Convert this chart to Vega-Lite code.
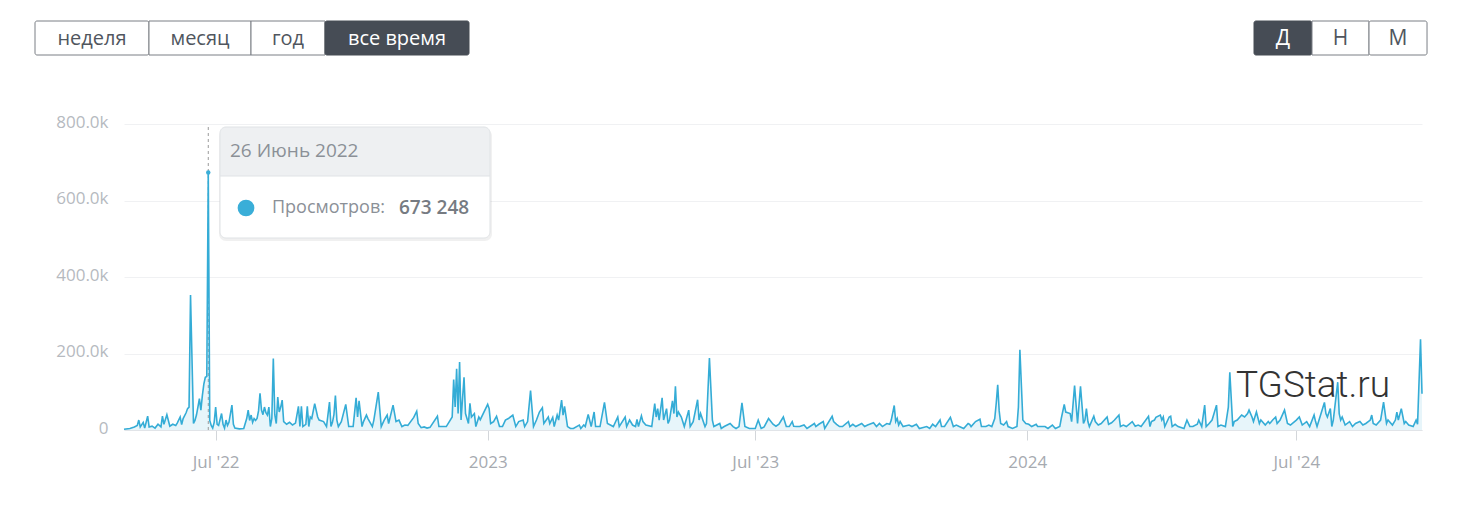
{
"$schema": "https://vega.github.io/schema/vega-lite/v6.json",
"width": 1298, "height": 306,
"autosize": {"type": "none"},
"padding": {"left": 124, "top": 124, "right": 38, "bottom": 75},
"background": "white",
"config": {"view": {"stroke": null}, "font": "Open Sans"},
"datasets": {"views": [
{"d":"2022-04-30","v":2000},{"d":"2022-05-04","v":4000},{"d":"2022-05-07","v":8000},{"d":"2022-05-09","v":12000},{"d":"2022-05-10","v":26000},{"d":"2022-05-11","v":8000},{"d":"2022-05-13","v":20000},{"d":"2022-05-14","v":5000},{"d":"2022-05-16","v":36000},{"d":"2022-05-17","v":8000},{"d":"2022-05-19","v":10000},{"d":"2022-05-21","v":5000},{"d":"2022-05-23","v":15000},{"d":"2022-05-25","v":8000},{"d":"2022-05-26","v":36000},{"d":"2022-05-27","v":15000},{"d":"2022-05-29","v":40000},{"d":"2022-05-31","v":10000},
{"d":"2022-06-02","v":15000},{"d":"2022-06-04","v":12000},{"d":"2022-06-05","v":18000},{"d":"2022-06-07","v":34000},{"d":"2022-06-08","v":14000},{"d":"2022-06-09","v":30000},{"d":"2022-06-11","v":45000},{"d":"2022-06-12","v":56000},{"d":"2022-06-13","v":60000},{"d":"2022-06-14","v":353000},{"d":"2022-06-16","v":17000},{"d":"2022-06-17","v":25000},{"d":"2022-06-18","v":39000},{"d":"2022-06-19","v":60000},{"d":"2022-06-20","v":82000},{"d":"2022-06-21","v":52000},{"d":"2022-06-22","v":90000},{"d":"2022-06-23","v":120000},{"d":"2022-06-24","v":138000},{"d":"2022-06-25","v":140000},{"d":"2022-06-26","v":673248},{"d":"2022-06-27","v":25000},{"d":"2022-06-28","v":12000},{"d":"2022-06-29","v":5000},{"d":"2022-06-30","v":20000},
{"d":"2022-07-01","v":60000},{"d":"2022-07-02","v":15000},{"d":"2022-07-03","v":12000},{"d":"2022-07-05","v":43000},{"d":"2022-07-06","v":15000},{"d":"2022-07-07","v":5000},{"d":"2022-07-08","v":26000},{"d":"2022-07-09","v":12000},{"d":"2022-07-10","v":20000},{"d":"2022-07-12","v":65000},{"d":"2022-07-13","v":15000},{"d":"2022-07-14","v":5000},{"d":"2022-07-17","v":3000},{"d":"2022-07-20","v":4000},{"d":"2022-07-22","v":30000},{"d":"2022-07-23","v":52000},{"d":"2022-07-24","v":25000},{"d":"2022-07-25","v":39000},{"d":"2022-07-26","v":20000},{"d":"2022-07-27","v":30000},{"d":"2022-07-28","v":25000},{"d":"2022-07-29","v":30000},{"d":"2022-07-30","v":50000},{"d":"2022-07-31","v":96000},
{"d":"2022-08-01","v":52000},{"d":"2022-08-02","v":40000},{"d":"2022-08-03","v":60000},{"d":"2022-08-04","v":45000},{"d":"2022-08-05","v":39000},{"d":"2022-08-06","v":60000},{"d":"2022-08-07","v":9000},{"d":"2022-08-08","v":30000},{"d":"2022-08-09","v":187000},{"d":"2022-08-10","v":40000},{"d":"2022-08-11","v":17000},{"d":"2022-08-12","v":86000},{"d":"2022-08-13","v":47000},{"d":"2022-08-14","v":60000},{"d":"2022-08-15","v":78000},{"d":"2022-08-16","v":22000},{"d":"2022-08-18","v":15000},{"d":"2022-08-20","v":20000},{"d":"2022-08-22","v":13000},{"d":"2022-08-24","v":18000},{"d":"2022-08-26","v":62000},{"d":"2022-08-27","v":9000},{"d":"2022-08-28","v":62000},{"d":"2022-08-29","v":9000},{"d":"2022-08-31","v":15000},
{"d":"2022-09-01","v":62000},{"d":"2022-09-02","v":9000},{"d":"2022-09-03","v":34000},{"d":"2022-09-04","v":30000},{"d":"2022-09-06","v":69000},{"d":"2022-09-08","v":34000},{"d":"2022-09-09","v":26000},{"d":"2022-09-12","v":22000},{"d":"2022-09-14","v":9000},{"d":"2022-09-16","v":73000},{"d":"2022-09-17","v":9000},{"d":"2022-09-18","v":20000},{"d":"2022-09-19","v":40000},{"d":"2022-09-20","v":90000},{"d":"2022-09-21","v":26000},{"d":"2022-09-22","v":9000},{"d":"2022-09-24","v":22000},{"d":"2022-09-27","v":67000},{"d":"2022-09-29","v":9000},
{"d":"2022-10-02","v":9000},{"d":"2022-10-04","v":84000},{"d":"2022-10-05","v":34000},{"d":"2022-10-06","v":76000},{"d":"2022-10-08","v":9000},{"d":"2022-10-09","v":22000},{"d":"2022-10-11","v":39000},{"d":"2022-10-12","v":30000},{"d":"2022-10-15","v":9000},{"d":"2022-10-16","v":26000},{"d":"2022-10-19","v":99000},{"d":"2022-10-21","v":9000},{"d":"2022-10-23","v":26000},{"d":"2022-10-25","v":39000},{"d":"2022-10-26","v":17000},{"d":"2022-10-29","v":65000},{"d":"2022-10-31","v":22000},
{"d":"2022-11-02","v":26000},{"d":"2022-11-04","v":9000},{"d":"2022-11-06","v":13000},{"d":"2022-11-08","v":12000},{"d":"2022-11-12","v":33000},{"d":"2022-11-14","v":49000},{"d":"2022-11-15","v":17000},{"d":"2022-11-17","v":6000},{"d":"2022-11-19","v":8000},{"d":"2022-11-21","v":5000},{"d":"2022-11-23","v":7000},{"d":"2022-11-28","v":36000},{"d":"2022-11-29","v":9000},
{"d":"2022-12-02","v":9000},{"d":"2022-12-04","v":9000},{"d":"2022-12-08","v":34000},{"d":"2022-12-09","v":132000},{"d":"2022-12-10","v":60000},{"d":"2022-12-11","v":160000},{"d":"2022-12-12","v":43000},{"d":"2022-12-13","v":178000},{"d":"2022-12-14","v":26000},{"d":"2022-12-16","v":138000},{"d":"2022-12-17","v":43000},{"d":"2022-12-19","v":17000},{"d":"2022-12-20","v":70000},{"d":"2022-12-21","v":34000},{"d":"2022-12-23","v":43000},{"d":"2022-12-24","v":9000},{"d":"2022-12-26","v":34000},{"d":"2022-12-27","v":27000},
{"d":"2023-01-01","v":67000},{"d":"2023-01-02","v":56000},{"d":"2023-01-03","v":17000},{"d":"2023-01-05","v":22000},{"d":"2023-01-07","v":36000},{"d":"2023-01-09","v":9000},{"d":"2023-01-11","v":9000},{"d":"2023-01-13","v":26000},{"d":"2023-01-15","v":30000},{"d":"2023-01-18","v":39000},{"d":"2023-01-20","v":9000},{"d":"2023-01-22","v":22000},{"d":"2023-01-25","v":26000},{"d":"2023-01-26","v":9000},{"d":"2023-01-28","v":22000},{"d":"2023-01-30","v":103000},
{"d":"2023-02-01","v":9000},{"d":"2023-02-03","v":26000},{"d":"2023-02-05","v":47000},{"d":"2023-02-07","v":58000},{"d":"2023-02-08","v":17000},{"d":"2023-02-11","v":34000},{"d":"2023-02-12","v":17000},{"d":"2023-02-14","v":33000},{"d":"2023-02-15","v":9000},{"d":"2023-02-17","v":39000},{"d":"2023-02-18","v":26000},{"d":"2023-02-20","v":78000},{"d":"2023-02-21","v":39000},{"d":"2023-02-22","v":62000},{"d":"2023-02-24","v":9000},{"d":"2023-02-26","v":4000},{"d":"2023-02-28","v":4000},
{"d":"2023-03-04","v":13000},{"d":"2023-03-05","v":4000},{"d":"2023-03-07","v":13000},{"d":"2023-03-08","v":9000},{"d":"2023-03-10","v":41000},{"d":"2023-03-12","v":9000},{"d":"2023-03-14","v":47000},{"d":"2023-03-15","v":9000},{"d":"2023-03-18","v":9000},{"d":"2023-03-21","v":72000},{"d":"2023-03-23","v":17000},{"d":"2023-03-25","v":13000},{"d":"2023-03-27","v":9000},{"d":"2023-03-30","v":34000},{"d":"2023-03-31","v":9000},
{"d":"2023-04-04","v":34000},{"d":"2023-04-05","v":9000},{"d":"2023-04-07","v":26000},{"d":"2023-04-09","v":13000},{"d":"2023-04-11","v":9000},{"d":"2023-04-12","v":28000},{"d":"2023-04-13","v":9000},{"d":"2023-04-15","v":37000},{"d":"2023-04-16","v":22000},{"d":"2023-04-18","v":13000},{"d":"2023-04-22","v":9000},{"d":"2023-04-24","v":69000},{"d":"2023-04-25","v":34000},{"d":"2023-04-26","v":56000},{"d":"2023-04-27","v":26000},{"d":"2023-04-29","v":84000},{"d":"2023-04-30","v":26000},
{"d":"2023-05-02","v":56000},{"d":"2023-05-03","v":17000},{"d":"2023-05-04","v":26000},{"d":"2023-05-06","v":76000},{"d":"2023-05-07","v":43000},{"d":"2023-05-08","v":114000},{"d":"2023-05-09","v":34000},{"d":"2023-05-10","v":47000},{"d":"2023-05-12","v":34000},{"d":"2023-05-14","v":9000},{"d":"2023-05-17","v":52000},{"d":"2023-05-18","v":9000},{"d":"2023-05-20","v":22000},{"d":"2023-05-23","v":79000},{"d":"2023-05-24","v":26000},{"d":"2023-05-25","v":43000},{"d":"2023-05-28","v":9000},{"d":"2023-05-29","v":17000},{"d":"2023-05-31","v":188000},
{"d":"2023-06-02","v":26000},{"d":"2023-06-03","v":9000},{"d":"2023-06-07","v":17000},{"d":"2023-06-08","v":4000},{"d":"2023-06-10","v":9000},{"d":"2023-06-14","v":17000},{"d":"2023-06-16","v":9000},{"d":"2023-06-18","v":4000},{"d":"2023-06-20","v":9000},{"d":"2023-06-22","v":71000},{"d":"2023-06-24","v":9000},{"d":"2023-06-27","v":4000},
{"d":"2023-07-01","v":4000},{"d":"2023-07-03","v":26000},{"d":"2023-07-05","v":4000},{"d":"2023-07-07","v":8000},{"d":"2023-07-10","v":30000},{"d":"2023-07-13","v":15000},{"d":"2023-07-15","v":10000},{"d":"2023-07-17","v":15000},{"d":"2023-07-20","v":34000},{"d":"2023-07-22","v":9000},{"d":"2023-07-24","v":9000},{"d":"2023-07-26","v":22000},{"d":"2023-07-27","v":10000},{"d":"2023-07-29","v":9000},{"d":"2023-07-31","v":9000},
{"d":"2023-08-03","v":13000},{"d":"2023-08-05","v":4000},{"d":"2023-08-10","v":17000},{"d":"2023-08-11","v":9000},{"d":"2023-08-13","v":15000},{"d":"2023-08-16","v":22000},{"d":"2023-08-17","v":4000},{"d":"2023-08-22","v":36000},{"d":"2023-08-23","v":22000},{"d":"2023-08-25","v":15000},{"d":"2023-08-27","v":9000},{"d":"2023-08-29","v":9000},
{"d":"2023-09-02","v":22000},{"d":"2023-09-03","v":9000},{"d":"2023-09-05","v":15000},{"d":"2023-09-07","v":9000},{"d":"2023-09-11","v":17000},{"d":"2023-09-13","v":9000},{"d":"2023-09-15","v":13000},{"d":"2023-09-19","v":19000},{"d":"2023-09-21","v":9000},{"d":"2023-09-23","v":17000},{"d":"2023-09-25","v":9000},{"d":"2023-09-28","v":17000},{"d":"2023-09-30","v":15000},
{"d":"2023-10-01","v":26000},{"d":"2023-10-03","v":64000},{"d":"2023-10-04","v":22000},{"d":"2023-10-05","v":30000},{"d":"2023-10-06","v":13000},{"d":"2023-10-07","v":22000},{"d":"2023-10-09","v":9000},{"d":"2023-10-13","v":13000},{"d":"2023-10-15","v":9000},{"d":"2023-10-18","v":15000},{"d":"2023-10-20","v":4000},{"d":"2023-10-25","v":9000},{"d":"2023-10-27","v":4000},{"d":"2023-10-29","v":15000},{"d":"2023-10-31","v":9000},
{"d":"2023-11-03","v":26000},{"d":"2023-11-04","v":9000},{"d":"2023-11-06","v":9000},{"d":"2023-11-10","v":33000},{"d":"2023-11-12","v":9000},{"d":"2023-11-14","v":13000},{"d":"2023-11-16","v":9000},{"d":"2023-11-19","v":4000},{"d":"2023-11-22","v":17000},{"d":"2023-11-23","v":15000},{"d":"2023-11-24","v":9000},{"d":"2023-11-27","v":22000},{"d":"2023-11-30","v":28000},
{"d":"2023-12-01","v":9000},{"d":"2023-12-04","v":9000},{"d":"2023-12-06","v":13000},{"d":"2023-12-08","v":9000},{"d":"2023-12-10","v":30000},{"d":"2023-12-11","v":70000},{"d":"2023-12-12","v":118000},{"d":"2023-12-13","v":50000},{"d":"2023-12-14","v":17000},{"d":"2023-12-16","v":13000},{"d":"2023-12-18","v":22000},{"d":"2023-12-19","v":9000},{"d":"2023-12-22","v":4000},{"d":"2023-12-25","v":9000},{"d":"2023-12-26","v":60000},{"d":"2023-12-27","v":210000},{"d":"2023-12-29","v":26000},{"d":"2023-12-31","v":17000},
{"d":"2024-01-02","v":15000},{"d":"2024-01-04","v":9000},{"d":"2024-01-07","v":15000},{"d":"2024-01-08","v":9000},{"d":"2024-01-11","v":9000},{"d":"2024-01-13","v":9000},{"d":"2024-01-15","v":4000},{"d":"2024-01-18","v":13000},{"d":"2024-01-20","v":4000},{"d":"2024-01-23","v":9000},{"d":"2024-01-24","v":30000},{"d":"2024-01-26","v":67000},{"d":"2024-01-27","v":47000},{"d":"2024-01-30","v":43000},{"d":"2024-01-31","v":22000},
{"d":"2024-02-02","v":116000},{"d":"2024-02-04","v":17000},{"d":"2024-02-06","v":114000},{"d":"2024-02-08","v":17000},{"d":"2024-02-09","v":26000},{"d":"2024-02-10","v":56000},{"d":"2024-02-11","v":22000},{"d":"2024-02-12","v":9000},{"d":"2024-02-15","v":36000},{"d":"2024-02-16","v":22000},{"d":"2024-02-18","v":13000},{"d":"2024-02-20","v":17000},{"d":"2024-02-24","v":34000},{"d":"2024-02-25","v":15000},{"d":"2024-02-27","v":19000},{"d":"2024-02-29","v":26000},
{"d":"2024-03-03","v":39000},{"d":"2024-03-04","v":9000},{"d":"2024-03-06","v":13000},{"d":"2024-03-08","v":9000},{"d":"2024-03-12","v":22000},{"d":"2024-03-14","v":10000},{"d":"2024-03-16","v":13000},{"d":"2024-03-18","v":9000},{"d":"2024-03-23","v":36000},{"d":"2024-03-24","v":9000},{"d":"2024-03-25","v":22000},{"d":"2024-03-27","v":26000},{"d":"2024-03-28","v":33000},{"d":"2024-03-31","v":39000},
{"d":"2024-04-01","v":26000},{"d":"2024-04-02","v":34000},{"d":"2024-04-03","v":9000},{"d":"2024-04-06","v":34000},{"d":"2024-04-07","v":36000},{"d":"2024-04-08","v":9000},{"d":"2024-04-10","v":15000},{"d":"2024-04-12","v":9000},{"d":"2024-04-16","v":4000},{"d":"2024-04-18","v":26000},{"d":"2024-04-20","v":9000},{"d":"2024-04-22","v":9000},{"d":"2024-04-25","v":15000},{"d":"2024-04-26","v":26000},{"d":"2024-04-28","v":9000},{"d":"2024-04-30","v":65000},
{"d":"2024-05-01","v":9000},{"d":"2024-05-03","v":17000},{"d":"2024-05-05","v":26000},{"d":"2024-05-08","v":65000},{"d":"2024-05-09","v":9000},{"d":"2024-05-11","v":13000},{"d":"2024-05-14","v":9000},{"d":"2024-05-16","v":60000},{"d":"2024-05-17","v":151000},{"d":"2024-05-19","v":9000},{"d":"2024-05-20","v":22000},{"d":"2024-05-22","v":26000},{"d":"2024-05-25","v":39000},{"d":"2024-05-27","v":34000},{"d":"2024-05-29","v":43000},{"d":"2024-05-30","v":52000},
{"d":"2024-06-01","v":34000},{"d":"2024-06-02","v":22000},{"d":"2024-06-04","v":47000},{"d":"2024-06-06","v":17000},{"d":"2024-06-07","v":26000},{"d":"2024-06-10","v":13000},{"d":"2024-06-12","v":22000},{"d":"2024-06-13","v":17000},{"d":"2024-06-15","v":26000},{"d":"2024-06-17","v":34000},{"d":"2024-06-18","v":17000},{"d":"2024-06-20","v":26000},{"d":"2024-06-23","v":52000},{"d":"2024-06-25","v":17000},{"d":"2024-06-27","v":13000},
{"d":"2024-07-01","v":26000},{"d":"2024-07-03","v":34000},{"d":"2024-07-05","v":13000},{"d":"2024-07-08","v":22000},{"d":"2024-07-10","v":9000},{"d":"2024-07-13","v":39000},{"d":"2024-07-14","v":22000},{"d":"2024-07-15","v":9000},{"d":"2024-07-20","v":72000},{"d":"2024-07-21","v":43000},{"d":"2024-07-22","v":34000},{"d":"2024-07-24","v":56000},{"d":"2024-07-25","v":9000},{"d":"2024-07-26","v":26000},{"d":"2024-07-29","v":125000},{"d":"2024-07-30","v":43000},{"d":"2024-07-31","v":26000},
{"d":"2024-08-01","v":34000},{"d":"2024-08-03","v":13000},{"d":"2024-08-06","v":22000},{"d":"2024-08-08","v":9000},{"d":"2024-08-10","v":17000},{"d":"2024-08-13","v":22000},{"d":"2024-08-15","v":13000},{"d":"2024-08-17","v":17000},{"d":"2024-08-20","v":26000},{"d":"2024-08-21","v":39000},{"d":"2024-08-22","v":17000},{"d":"2024-08-24","v":13000},{"d":"2024-08-27","v":26000},{"d":"2024-08-29","v":73000},{"d":"2024-08-31","v":17000},
{"d":"2024-09-01","v":26000},{"d":"2024-09-04","v":13000},{"d":"2024-09-06","v":26000},{"d":"2024-09-07","v":47000},{"d":"2024-09-08","v":26000},{"d":"2024-09-10","v":56000},{"d":"2024-09-12","v":17000},{"d":"2024-09-13","v":22000},{"d":"2024-09-15","v":13000},{"d":"2024-09-18","v":9000},{"d":"2024-09-20","v":26000},{"d":"2024-09-21","v":15000},{"d":"2024-09-23","v":237000},{"d":"2024-09-24","v":95000}
]},
"layer": [
{"data": {"name": "views"},
 "mark": {"type": "area", "color": "#3aaed8", "fillOpacity": 0.12},
 "encoding": {
  "x": {"field": "d", "type": "temporal",
   "scale": {"type": "utc", "domain": [{"year": 2022, "month": 4, "date": 30, "utc": true}, {"year": 2024, "month": 9, "date": 24, "utc": true}]},
   "axis": {"title": null, "grid": false, "domainColor": "#e1e4e8", "tickColor": "#d3d6da", "tickSize": 10, "labelFontSize": 17, "labelColor": "#a6aab0", "labelPadding": 14, "labelFlush": false,
    "values": [{"year": 2022, "month": 7, "date": 1, "utc": true}, {"year": 2023, "month": 1, "date": 1, "utc": true}, {"year": 2023, "month": 7, "date": 1, "utc": true}, {"year": 2024, "month": 1, "date": 1, "utc": true}, {"year": 2024, "month": 7, "date": 1, "utc": true}],
    "labelExpr": "utcmonth(datum.value) == 0 ? utcFormat(datum.value, '%Y') : utcFormat(datum.value, \"%b '%y\")"}},
  "y": {"field": "v", "type": "quantitative",
   "scale": {"domain": [0, 800000], "nice": false},
   "axis": {"title": null, "values": [0, 200000, 400000, 600000, 800000], "domain": false, "ticks": false, "gridColor": "#f0f1f3", "labelFontSize": 17, "labelColor": "#b6babf", "labelPadding": 16, "labelOffset": -2,
    "labelExpr": "datum.value == 0 ? '0' : format(datum.value / 1000, '.1f') + 'k'"}}
 }},
{"data": {"values": [{}]},
 "mark": {"type": "rule", "color": "#9a9a9a", "strokeDash": [3, 3], "strokeWidth": 1},
 "encoding": {"x": {"datum": {"year": 2022, "month": 6, "date": 26, "utc": true}, "type": "temporal"}, "y": {"datum": 0, "type": "quantitative"}, "y2": {"datum": 800000}}},
{"data": {"name": "views"},
 "mark": {"type": "line", "color": "#34acd6", "strokeWidth": 1.6},
 "encoding": {"x": {"field": "d", "type": "temporal", "title": null}, "y": {"field": "v", "type": "quantitative", "title": null}}},
{"data": {"values": [{}]},
 "mark": {"type": "point", "filled": true, "color": "#3aaed8", "size": 20, "opacity": 1},
 "encoding": {"x": {"datum": {"year": 2022, "month": 6, "date": 26, "utc": true}, "type": "temporal"}, "y": {"datum": 673248, "type": "quantitative"}}},
{"data": {"values": [{}]},
 "mark": {"type": "rect", "fill": "#000000", "fillOpacity": 0.06, "cornerRadius": 7, "yOffset": 2, "y2Offset": 3, "xOffset": -1, "x2Offset": 2},
 "encoding": {"x": {"datum": {"year": 2022, "month": 7, "date": 3, "hours": 22, "minutes": 30, "utc": true}, "type": "temporal"}, "x2": {"datum": {"year": 2023, "month": 1, "date": 2, "hours": 13, "minutes": 40, "utc": true}}, "y": {"datum": 792157, "type": "quantitative"}, "y2": {"datum": 501961}}},
{"data": {"values": [{}]},
 "mark": {"type": "rect", "fill": "#ffffff", "cornerRadius": 6},
 "encoding": {"x": {"datum": {"year": 2022, "month": 7, "date": 3, "hours": 22, "minutes": 30, "utc": true}, "type": "temporal"}, "x2": {"datum": {"year": 2023, "month": 1, "date": 2, "hours": 13, "minutes": 40, "utc": true}}, "y": {"datum": 792157, "type": "quantitative"}, "y2": {"datum": 501961}}},
{"data": {"values": [{}]},
 "mark": {"type": "rect", "fill": "#eef0f2", "cornerRadiusTopLeft": 6, "cornerRadiusTopRight": 6},
 "encoding": {"x": {"datum": {"year": 2022, "month": 7, "date": 3, "hours": 22, "minutes": 30, "utc": true}, "type": "temporal"}, "x2": {"datum": {"year": 2023, "month": 1, "date": 2, "hours": 13, "minutes": 40, "utc": true}}, "y": {"datum": 792157, "type": "quantitative"}, "y2": {"datum": 664052}}},
{"data": {"values": [{}]},
 "mark": {"type": "rule", "color": "#e0e3e6", "strokeWidth": 1},
 "encoding": {"x": {"datum": {"year": 2022, "month": 7, "date": 3, "hours": 22, "minutes": 30, "utc": true}, "type": "temporal"}, "x2": {"datum": {"year": 2023, "month": 1, "date": 2, "hours": 13, "minutes": 40, "utc": true}}, "y": {"datum": 664052, "type": "quantitative"}}},
{"data": {"values": [{}]},
 "mark": {"type": "rect", "fillOpacity": 0, "stroke": "#e0e3e6", "strokeWidth": 1, "cornerRadius": 6},
 "encoding": {"x": {"datum": {"year": 2022, "month": 7, "date": 3, "hours": 22, "minutes": 30, "utc": true}, "type": "temporal"}, "x2": {"datum": {"year": 2023, "month": 1, "date": 2, "hours": 13, "minutes": 40, "utc": true}}, "y": {"datum": 792157, "type": "quantitative"}, "y2": {"datum": 501961}}},
{"data": {"values": [{}]},
 "mark": {"type": "text", "text": "26 Июнь 2022", "align": "left", "baseline": "middle", "fontSize": 19, "color": "#8b9097"},
 "encoding": {"x": {"datum": {"year": 2022, "month": 7, "date": 10, "hours": 16, "minutes": 50, "utc": true}, "type": "temporal"}, "y": {"datum": 729412, "type": "quantitative"}}},
{"data": {"values": [{}]},
 "mark": {"type": "point", "filled": true, "color": "#3aaed8", "size": 280, "opacity": 1},
 "encoding": {"x": {"datum": {"year": 2022, "month": 7, "date": 21, "hours": 12, "minutes": 40, "utc": true}, "type": "temporal"}, "y": {"datum": 580392, "type": "quantitative"}}},
{"data": {"values": [{}]},
 "mark": {"type": "text", "text": "Просмотров:", "align": "left", "baseline": "middle", "fontSize": 18, "color": "#8b9097"},
 "encoding": {"x": {"datum": {"year": 2022, "month": 8, "date": 8, "hours": 2, "minutes": 40, "utc": true}, "type": "temporal"}, "y": {"datum": 580392, "type": "quantitative"}}},
{"data": {"values": [{}]},
 "mark": {"type": "text", "text": "673 248", "align": "left", "baseline": "middle", "fontSize": 19, "fontWeight": 600, "color": "#767b82"},
 "encoding": {"x": {"datum": {"year": 2022, "month": 11, "date": 2, "hours": 0, "minutes": 30, "utc": true}, "type": "temporal"}, "y": {"datum": 580392, "type": "quantitative"}}},
{"data": {"values": [{}]},
 "mark": {"type": "text", "text": "TGStat.ru", "align": "left", "baseline": "alphabetic", "fontSize": 37, "font": "Roboto", "fontWeight": 300, "color": "#333333"},
 "encoding": {"x": {"datum": {"year": 2024, "month": 5, "date": 21, "hours": 5, "utc": true}, "type": "temporal"}, "y": {"datum": 86275, "type": "quantitative"}}},
{"data": {"values": [{}]},
 "mark": {"type": "rect", "fill": "#ffffff", "stroke": "#7b7f85", "strokeWidth": 1, "cornerRadius": 2},
 "encoding": {"x": {"datum": {"year": 2022, "month": 2, "date": 28, "hours": 19, "minutes": 12, "utc": true}, "type": "temporal"}, "x2": {"datum": {"year": 2022, "month": 5, "date": 16, "hours": 21, "minutes": 50, "utc": true}}, "y": {"datum": 1069281, "type": "quantitative"}, "y2": {"datum": 980392}}},
{"data": {"values": [{}]},
 "mark": {"type": "rect", "fill": "#ffffff", "stroke": "#7b7f85", "strokeWidth": 1},
 "encoding": {"x": {"datum": {"year": 2022, "month": 5, "date": 16, "hours": 21, "minutes": 50, "utc": true}, "type": "temporal"}, "x2": {"datum": {"year": 2022, "month": 7, "date": 24, "hours": 21, "minutes": 50, "utc": true}}, "y": {"datum": 1069281, "type": "quantitative"}, "y2": {"datum": 980392}}},
{"data": {"values": [{}]},
 "mark": {"type": "rect", "fill": "#ffffff", "stroke": "#7b7f85", "strokeWidth": 1},
 "encoding": {"x": {"datum": {"year": 2022, "month": 7, "date": 24, "hours": 21, "minutes": 50, "utc": true}, "type": "temporal"}, "x2": {"datum": {"year": 2022, "month": 9, "date": 12, "hours": 23, "utc": true}}, "y": {"datum": 1069281, "type": "quantitative"}, "y2": {"datum": 980392}}},
{"data": {"values": [{}]},
 "mark": {"type": "rect", "fill": "#464c55", "stroke": "#464c55", "strokeWidth": 1, "cornerRadius": 2},
 "encoding": {"x": {"datum": {"year": 2022, "month": 9, "date": 12, "hours": 23, "utc": true}, "type": "temporal"}, "x2": {"datum": {"year": 2022, "month": 12, "date": 19, "hours": 9, "utc": true}}, "y": {"datum": 1069281, "type": "quantitative"}, "y2": {"datum": 980392}}},
{"data": {"values": [{}]},
 "mark": {"type": "rect", "fill": "#464c55", "stroke": "#464c55", "strokeWidth": 1, "cornerRadius": 2},
 "encoding": {"x": {"datum": {"year": 2024, "month": 6, "date": 2, "hours": 8, "minutes": 40, "utc": true}, "type": "temporal"}, "x2": {"datum": {"year": 2024, "month": 7, "date": 11, "hours": 14, "minutes": 24, "utc": true}}, "y": {"datum": 1069281, "type": "quantitative"}, "y2": {"datum": 980392}}},
{"data": {"values": [{}]},
 "mark": {"type": "rect", "fill": "#ffffff", "stroke": "#7b7f85", "strokeWidth": 1},
 "encoding": {"x": {"datum": {"year": 2024, "month": 7, "date": 11, "hours": 14, "minutes": 24, "utc": true}, "type": "temporal"}, "x2": {"datum": {"year": 2024, "month": 8, "date": 19, "hours": 4, "utc": true}}, "y": {"datum": 1069281, "type": "quantitative"}, "y2": {"datum": 980392}}},
{"data": {"values": [{}]},
 "mark": {"type": "rect", "fill": "#ffffff", "stroke": "#7b7f85", "strokeWidth": 1, "cornerRadius": 2},
 "encoding": {"x": {"datum": {"year": 2024, "month": 8, "date": 19, "hours": 4, "utc": true}, "type": "temporal"}, "x2": {"datum": {"year": 2024, "month": 9, "date": 27, "hours": 9, "minutes": 40, "utc": true}}, "y": {"datum": 1069281, "type": "quantitative"}, "y2": {"datum": 980392}}},
{"data": {"values": [{}]},
 "mark": {"type": "text", "text": "неделя", "align": "center", "baseline": "middle", "fontSize": 20, "color": "#50565e"},
 "encoding": {"x": {"datum": {"year": 2022, "month": 4, "date": 8, "hours": 8, "minutes": 24, "utc": true}, "type": "temporal"}, "y": {"datum": 1023529, "type": "quantitative"}}},
{"data": {"values": [{}]},
 "mark": {"type": "text", "text": "месяц", "align": "center", "baseline": "middle", "fontSize": 20, "color": "#50565e"},
 "encoding": {"x": {"datum": {"year": 2022, "month": 6, "date": 20, "hours": 9, "minutes": 50, "utc": true}, "type": "temporal"}, "y": {"datum": 1023529, "type": "quantitative"}}},
{"data": {"values": [{}]},
 "mark": {"type": "text", "text": "год", "align": "center", "baseline": "middle", "fontSize": 20, "color": "#50565e"},
 "encoding": {"x": {"datum": {"year": 2022, "month": 8, "date": 18, "hours": 22, "minutes": 20, "utc": true}, "type": "temporal"}, "y": {"datum": 1023529, "type": "quantitative"}}},
{"data": {"values": [{}]},
 "mark": {"type": "text", "text": "все время", "align": "center", "baseline": "middle", "fontSize": 20, "color": "#ffffff"},
 "encoding": {"x": {"datum": {"year": 2022, "month": 10, "date": 31, "hours": 15, "minutes": 50, "utc": true}, "type": "temporal"}, "y": {"datum": 1023529, "type": "quantitative"}}},
{"data": {"values": [{}]},
 "mark": {"type": "text", "text": "Д", "align": "center", "baseline": "middle", "fontSize": 21, "color": "#ffffff"},
 "encoding": {"x": {"datum": {"year": 2024, "month": 6, "date": 21, "hours": 23, "minutes": 20, "utc": true}, "type": "temporal"}, "y": {"datum": 1023529, "type": "quantitative"}}},
{"data": {"values": [{}]},
 "mark": {"type": "text", "text": "Н", "align": "center", "baseline": "middle", "fontSize": 21, "color": "#50565e"},
 "encoding": {"x": {"datum": {"year": 2024, "month": 7, "date": 30, "hours": 21, "minutes": 40, "utc": true}, "type": "temporal"}, "y": {"datum": 1023529, "type": "quantitative"}}},
{"data": {"values": [{}]},
 "mark": {"type": "text", "text": "М", "align": "center", "baseline": "middle", "fontSize": 21, "color": "#50565e"},
 "encoding": {"x": {"datum": {"year": 2024, "month": 9, "date": 7, "hours": 19, "minutes": 10, "utc": true}, "type": "temporal"}, "y": {"datum": 1023529, "type": "quantitative"}}}
]
}
